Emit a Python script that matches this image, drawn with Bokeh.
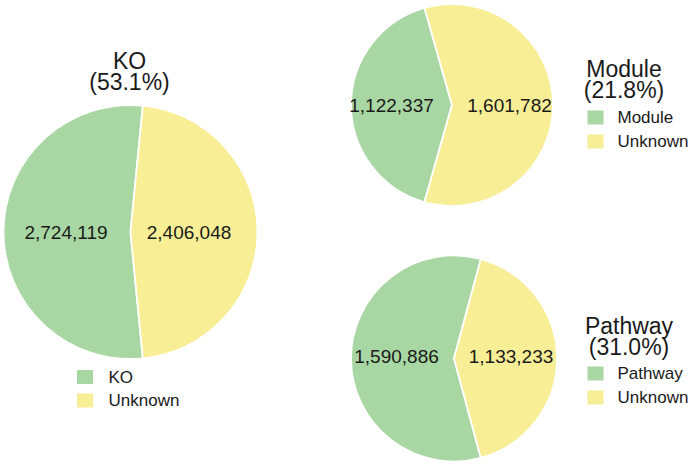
import math
from bokeh.plotting import figure
from bokeh.models import Range1d, ColumnDataSource
from bokeh.core.properties import value
from bokeh.embed import file_html
from bokeh.resources import INLINE

# ---- data ----
groups = ["KO", "Module", "Pathway"]
annotated = [2724119, 1122337, 1590886]
unknown = [2406048, 1601782, 1133233]
percent_labels = ["(53.1%)", "(21.8%)", "(31.0%)"]
category_labels = [["KO", "Unknown"], ["Module", "Unknown"], ["Pathway", "Unknown"]]

GREEN = "#A9D7A3"
YELLOW = "#F8EE95"
FONT = value("Liberation Sans")

# ---- layout (page pixel coordinates) ----
pies = {
    "KO":      dict(cx=130.0, cy=231.5, r=127.0, lab=(64.5, 58.5), laby=232.0),
    "Module":  dict(cx=451.5, cy=104.5, r=101.0, lab=(60.5, 57.5), laby=105.0),
    "Pathway": dict(cx=453.5, cy=358.0, r=103.0, lab=(57.5, 57.0), laby=356.0),
}
titles = {
    "KO":      dict(x=129.0, y1=60.0, y2=81.0),
    "Module":  dict(x=623.5, y1=68.5, y2=89.0),
    "Pathway": dict(x=628.5, y1=325.0, y2=346.0),
}
legends = {
    "KO":      dict(sx=84.5, tx=108.0, y=[376.5, 400.0]),
    "Module":  dict(sx=595.0, tx=617.0, y=[117.0, 141.0]),
    "Pathway": dict(sx=595.0, tx=617.0, y=[373.0, 397.0]),
}

W, H = 692, 464
p = figure(width=W, height=H, output_backend="svg", toolbar_location=None,
           x_range=Range1d(0, W), y_range=Range1d(-H, 0),
           min_border=0, outline_line_color=None)
p.axis.visible = False
p.grid.visible = False
p.background_fill_color = "white"
p.border_fill_color = "white"

def Y(py):
    return -py

for g, a, u, pct, cats in zip(groups, annotated, unknown, percent_labels, category_labels):
    geo = pies[g]
    total = a + u
    theta_g = 2 * math.pi * a / total
    s_g = math.pi - theta_g / 2
    e_g = math.pi + theta_g / 2
    src = ColumnDataSource(dict(
        x=[geo["cx"], geo["cx"]],
        y=[Y(geo["cy"]), Y(geo["cy"])],
        start=[s_g, e_g],
        end=[e_g, s_g + 2 * math.pi],
        color=[GREEN, YELLOW],
    ))
    p.wedge(x="x", y="y", radius=geo["r"], start_angle="start", end_angle="end",
            direction="anticlock", fill_color="color", line_color="white",
            line_width=1.8, source=src)
    # value labels (at the middle angle of each slice)
    vals = [a, u]
    mids = [math.pi, 0.0]
    lx = [geo["cx"] + d * math.cos(m) for d, m in zip(geo["lab"], mids)]
    ly = [Y(geo["laby"])] * 2
    p.text(x=lx, y=ly, text=[f"{v:,}" for v in vals], text_align="center",
           text_baseline="middle", text_font=FONT, text_font_size="19px",
           text_color="#1a1a1a")
    # titles
    t = titles[g]
    p.text(x=[t["x"], t["x"]], y=[Y(t["y1"]), Y(t["y2"])], text=[g, pct],
           text_align="center", text_baseline="middle", text_font=FONT,
           text_font_size="23px", text_color="#1a1a1a")
    # legends
    lg = legends[g]
    p.rect(x=[lg["sx"]] * 2, y=[Y(v) for v in lg["y"]], width=16, height=14,
           fill_color=[GREEN, YELLOW], line_color=None)
    p.text(x=[lg["tx"]] * 2, y=[Y(v) for v in lg["y"]], text=cats,
           text_align="left", text_baseline="middle", text_font=FONT,
           text_font_size="17px", text_color="#1a1a1a")

open("out.html", "w").write(file_html(p, INLINE))
